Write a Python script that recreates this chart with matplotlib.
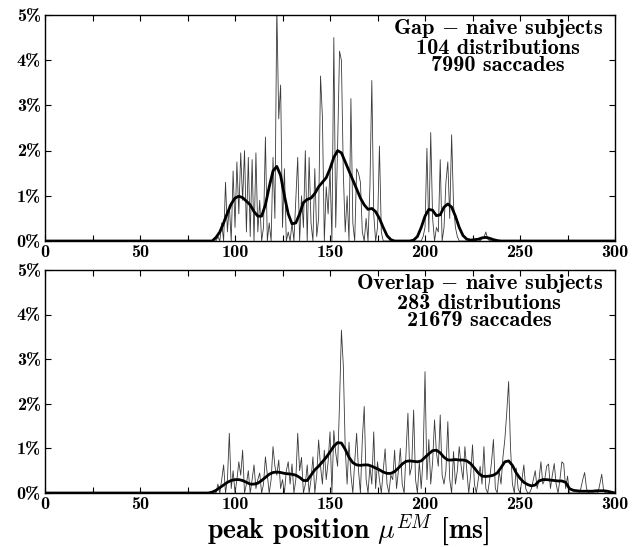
import numpy as np
import matplotlib
matplotlib.use("Agg")
import matplotlib.pyplot as plt
from matplotlib.ticker import FuncFormatter, MultipleLocator

plt.rcParams['font.family'] = ['cmb10', 'DejaVu Serif']
plt.rcParams['mathtext.fontset'] = 'cm'
plt.rcParams['axes.unicode_minus'] = False

# histogram, 1 ms bins, values in % (bins outside the listed range are zero)
gap_start = 88
gap_hist = [
    0, 0, 0, 0.1, 0, 0.4, 0, 1.3, 0.2, 0.8,            # 88-97
    0, 1.55, 0.3, 1.75, 0.6, 1.95, 0.9, 2.0, 0.2, 1.85,  # 98-107
    0.1, 1.8, 0, 1.95, 0.2, 0.9, 0, 0.3, 2.3, 0,         # 108-117
    0.4, 0, 1.85, 0.5, 5.2, 2.7, 3.45, 0.3, 1.6, 0,      # 118-127
    0.2, 0, 0.4, 0, 0.9, 1.85, 0, 1.0, 0.3, 2.0,         # 128-137
    0, 1.85, 0.4, 0, 1.6, 0.1, 0.5, 3.65, 2.75, 0,       # 138-147
    1.2, 0.6, 1.6, 0, 4.5, 0.3, 2.1, 4.2, 4.0, 1.5,      # 148-157
    0.2, 1.0, 0, 3.15, 0.4, 0, 1.6, 1.5, 1.3, 0.2,       # 158-167
    0, 0.5, 0, 1.2, 3.55, 0.6, 0, 0.3, 2.1, 0.2,         # 168-177
    0, 0, 0, 0, 0, 0, 0, 0, 0, 0,                        # 178-187
    0, 0, 0, 0, 0, 0, 0, 0, 0, 0,                        # 188-197
    0, 0.1, 0.3, 2.05, 0.2, 2.4, 0.5, 0, 0.3, 0.2,       # 198-207
    1.8, 0, 0.3, 1.3, 1.75, 0.5, 2.35, 0.8, 0.3, 0.1,    # 208-217
    0, 0, 0, 0, 0, 0, 0, 0, 0.03, 0,                     # 218-227
    0.05, 0, 0.05, 0.08, 0.2, 0.05, 0, 0.02, 0, 0,       # 228-237
    0, 0, 0,                                             # 238-240
]

overlap_start = 88
overlap_hist = [
    0, 0.05, 0, 0.2, 0, 0.3, 0.63, 0, 0.3, 1.34,         # 88-97
    0.1, 0.5, 0, 0.3, 0.7, 0.4, 0.96, 0, 0.2, 0.5,       # 98-107
    0, 0.3, 0.63, 0.1, 0.3, 0.45, 0, 0.2, 0.81, 0.4,     # 108-117
    0, 0.3, 1.04, 0.6, 0.4, 0.74, 0.1, 0.3, 0, 0.5,      # 118-127
    0.7, 0.2, 0.65, 0, 0.3, 1.34, 0.5, 0.8, 0, 0.2,      # 128-137
    0.63, 0, 0.3, 0.81, 0, 0.4, 1.19, 0.6, 0.2, 0.96,    # 138-147
    0.3, 0.7, 1.37, 0, 1.4, 0.9, 0.6, 2.0, 3.65, 2.85,   # 148-157
    1.0, 0.2, 1.14, 0.4, 0, 0.7, 1.34, 0.5, 0, 1.2,      # 158-167
    1.94, 0.3, 0, 0.6, 0.2, 1.37, 0.1, 0.7, 0.3, 0,      # 168-177
    0.5, 0.99, 0.2, 0, 0.4, 0.3, 0.96, 0.1, 0.5, 1.0,    # 178-187
    0.2, 0, 0.9, 1.79, 0.4, 0.6, 1.86, 0.3, 0, 0.7,      # 188-197
    0.1, 0.8, 2.72, 0.3, 1.2, 0.2, 0.7, 1.64, 0.9, 0.6,  # 198-207
    1.75, 0.4, 0.2, 0.5, 1.6, 0.3, 0, 0.93, 0.2, 0.5,    # 208-217
    1.04, 0.6, 0.3, 1.04, 0.5, 0, 0.4, 1.08, 0.2, 0,     # 218-227
    0.3, 0.6, 0.2, 1.04, 0.1, 0, 0.3, 0.7, 1.2, 0.1,     # 228-237
    0, 0.5, 0.2, 0.8, 1.2, 1.8, 2.5, 1.0, 0.2, 0,        # 238-247
    0.56, 0.1, 0, 0.3, 0.63, 0.1, 0, 0, 0.1, 0.3,        # 248-257
    0.5, 0.1, 0.3, 0.7, 0.2, 0.3, 0.6, 0.65, 0.1, 0.4,   # 258-267
    0.66, 0.2, 0, 0.3, 0.7, 0.65, 0.1, 0.38, 0, 0,       # 268-277
    0, 0, 0, 0, 0.1, 0.3, 0.46, 0.1, 0, 0,               # 278-287
    0, 0, 0, 0, 0.2, 0.42, 0.05, 0, 0, 0,                # 288-297
    0, 0, 0,                                             # 298-300
]

# smoothed distribution, sampled every 2 ms
smooth_start = 86
gap_smooth = [
    0, 0, 0.08, 0.2, 0.4, 0.62, 0.82, 0.95, 0.99, 0.96,      # 86-104
    0.88, 0.8, 0.65, 0.55, 0.55, 0.8, 1.2, 1.55, 1.65, 1.45,  # 106-124
    1.0, 0.6, 0.38, 0.4, 0.6, 0.85, 0.92, 0.95, 1.05, 1.2,    # 126-144
    1.3, 1.4, 1.6, 1.85, 2.0, 1.95, 1.75, 1.55, 1.35, 1.15,   # 146-164
    0.95, 0.8, 0.7, 0.72, 0.65, 0.5, 0.3, 0.12, 0.03, 0,      # 166-184
    0, 0, 0, 0, 0.02, 0.1, 0.3, 0.55, 0.7, 0.68,              # 186-204
    0.56, 0.58, 0.75, 0.82, 0.75, 0.55, 0.3, 0.12, 0.04, 0.02,  # 206-224
    0.03, 0.04, 0.07, 0.08, 0.06, 0.03, 0.01, 0,              # 226-240
]
overlap_smooth = [
    0, 0.02, 0.06, 0.12, 0.18, 0.24, 0.28, 0.3, 0.3, 0.28,     # 86-104
    0.24, 0.2, 0.2, 0.22, 0.28, 0.35, 0.42, 0.46, 0.47, 0.46,  # 106-124
    0.44, 0.43, 0.42, 0.4, 0.35, 0.28, 0.28, 0.4, 0.52, 0.6,   # 126-144
    0.7, 0.8, 0.92, 1.05, 1.13, 1.12, 0.98, 0.8, 0.68, 0.63,   # 146-164
    0.62, 0.63, 0.63, 0.6, 0.56, 0.52, 0.47, 0.44, 0.44, 0.48, # 166-184
    0.56, 0.65, 0.71, 0.72, 0.71, 0.7, 0.72, 0.8, 0.88, 0.95,  # 186-204
    0.96, 0.9, 0.8, 0.74, 0.74, 0.75, 0.74, 0.74, 0.72, 0.66,  # 206-224
    0.56, 0.45, 0.38, 0.37, 0.38, 0.4, 0.45, 0.57, 0.7, 0.72,  # 226-244
    0.62, 0.45, 0.33, 0.24, 0.19, 0.16, 0.18, 0.27, 0.3, 0.3,  # 246-264
    0.29, 0.28, 0.27, 0.27, 0.24, 0.1, 0.06, 0.05, 0.04, 0.04, # 266-284
    0.04, 0.04, 0.05, 0.05, 0.05, 0.04, 0.02, 0,               # 286-300
]

panels = [
    (gap_start, gap_hist, gap_smooth,
     "Gap $-$ naive subjects\n104 distributions\n7990 saccades"),
    (overlap_start, overlap_hist, overlap_smooth,
     "Overlap $-$ naive subjects\n283 distributions\n21679 saccades"),
]


def full_series(start, values):
    # pad with empty bins on both sides so the line runs over 0..300 ms
    x = np.arange(0, 301)
    y = np.zeros(len(x))
    y[start:start + len(values)] = values
    return x, y


fig = plt.figure(figsize=(6.42, 5.47), dpi=100)
rects = [(0.0701, 0.5594, 0.8879, 0.4132), (0.0701, 0.0987, 0.8879, 0.4077)]

for rect, (start, hist, smooth, label) in zip(rects, panels):
    ax = fig.add_axes(rect)
    hx, hy = full_series(start, hist)
    ax.plot(hx, hy, color="#3a3a3a", lw=0.6)
    sx = np.arange(smooth_start, smooth_start + 2 * len(smooth), 2)
    sx = np.concatenate(([0], sx, [300]))
    sy = np.concatenate(([0], smooth, [0]))
    ax.plot(sx, sy, color="black", lw=2.0, solid_joinstyle="round")

    ax.set_xlim(0, 300)
    ax.set_ylim(0, 5)
    ax.xaxis.set_major_locator(MultipleLocator(25))
    ax.xaxis.set_major_formatter(FuncFormatter(lambda v, _: "%d" % v if v % 50 == 0 else ""))
    ax.yaxis.set_major_locator(MultipleLocator(1))
    ax.yaxis.set_major_formatter(FuncFormatter(lambda v, _: "%d%%" % v))
    ax.tick_params(direction="in", top=True, right=True, length=4, width=0.8,
                   labelsize=13, pad=3)
    for s in ax.spines.values():
        s.set_linewidth(1.0)

    ax.text(0.979, 0.99, label, transform=ax.transAxes, ha="right", va="top",
            multialignment="center", fontsize=16, linespacing=0.9)

fig.text(0.543, -0.002, r"peak position $\mu^{EM}$ [ms]", ha="center", va="bottom",
         fontsize=20)

fig.savefig("out.png", dpi=100)
